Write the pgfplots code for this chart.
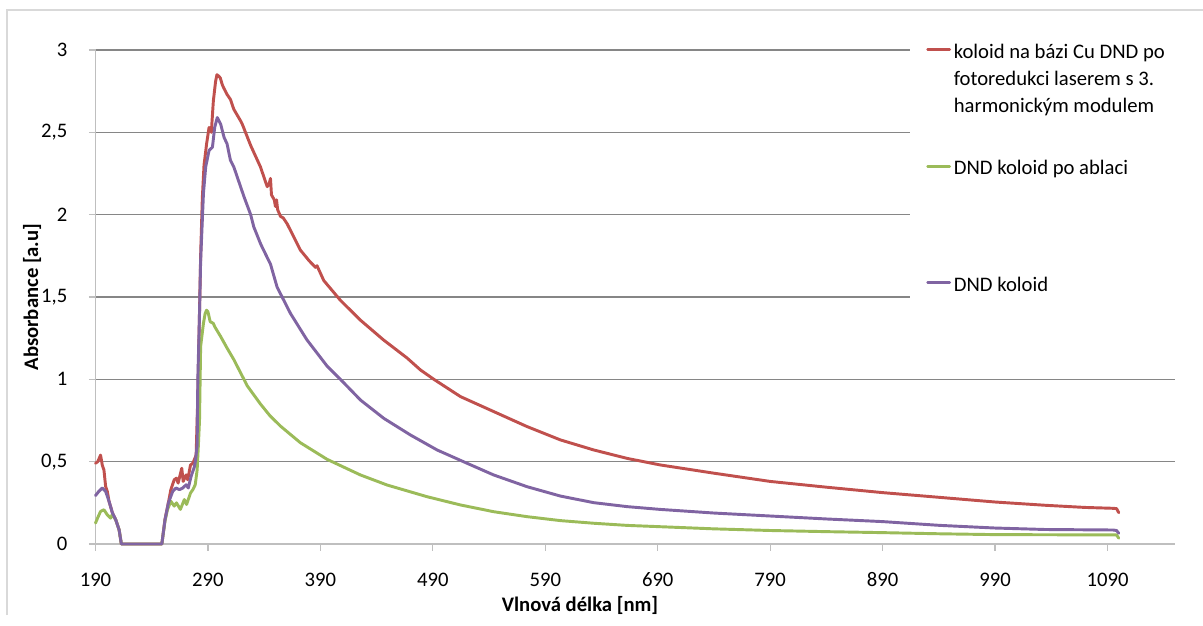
\documentclass[border=0pt]{standalone}
\usepackage{fontspec}
\setmainfont{Carlito}
\usepackage{pgfplots}
\pgfplotsset{compat=1.18}
\definecolor{cred}{HTML}{C0504D}
\definecolor{cgreen}{HTML}{9BBB59}
\definecolor{cpurple}{HTML}{8064A2}
\definecolor{gridc}{HTML}{868686}
\definecolor{axisc}{HTML}{BFBFBF}
\definecolor{borderc}{HTML}{D9D9D9}
\newcommand{\lfont}{\fontsize{15.5}{20.25}\selectfont}
\pgfplotsset{
  lineleg/.style={legend image code/.code={\draw[##1] (0pt,0pt) -- (16.5pt,0pt);}},
  redleg/.style={legend image code/.code={\draw[##1] (0pt,20.25pt) -- (16.5pt,20.25pt);}},
}
\begin{document}
\begin{tikzpicture}
\useasboundingbox (0,0) rectangle (902.25pt,468.75pt);
\draw[borderc,line width=0.9pt] (5.25pt,7.5pt) -- (5.25pt,461.25pt) -- (902.25pt,461.25pt);
\begin{axis}[
  at={(71.625pt,60.75pt)}, anchor=south west,
  scale only axis, width=809.625pt, height=370.5pt,
  xmin=190, xmax=1150, ymin=0, ymax=3,
  clip=false,
  axis x line*=bottom, axis y line*=left,
  axis line style={axisc,line width=1.1pt},
  every outer x axis line/.append style={-},
  every outer y axis line/.append style={-},
  xtick={190,290,390,490,590,690,790,890,990,1090},
  xticklabels={190,290,390,490,590,690,790,890,990,1090},
  ytick={0,0.5,1,1.5,2,2.5,3},
  yticklabels={0,{0,5},1,{1,5},2,{2,5},3},
  tick align=outside, major tick length=5pt,
  tick style={axisc,line width=0.9pt},
  ymajorgrids, grid style={gridc,line width=0.8pt},
  /pgf/number format/assume math mode=true,
  tick label style={font=\lfont},
  x tick label style={anchor=center, yshift=-21.75pt, inner sep=0pt},
  y tick label style={anchor=east, xshift=-16pt, inner sep=0pt},
  xlabel={Vlnová délka [nm]},
  ylabel={Absorbance [a.u]},
  xlabel style={font=\lfont\bfseries, at={(axis description cs:0.4488,-0.1235)}, anchor=center},
  ylabel style={font=\lfont\bfseries, at={(axis description cs:-0.0588,0.5)}, anchor=center},
  legend cell align=left,
  legend style={draw=none, fill=white, at={(0.7545,1.0395)}, anchor=north west,
    inner xsep=12pt, inner ysep=4.5pt, row sep=27pt, column sep=0pt,
    cells={anchor=west, align=left, inner xsep=1.5pt, inner ysep=0pt},
    font=\lfont},
  lineleg,
  every axis plot/.append style={line width=2.2pt, line join=round, line cap=round},
]
\addplot[cred, redleg] coordinates {
(190,0.49)(192,0.50)(194.5,0.54)(196,0.48)(197.5,0.45)(199,0.35)(200.5,0.32)(202,0.26)(205,0.19)(208,0.147)(211,0.086)(213,0)
(249,0)(251.8,0.15)(254.8,0.25)(257,0.33)(260,0.39)(262,0.40)(263.5,0.37)(266.7,0.46)(268,0.38)(270.6,0.42)(272,0.39)(274.5,0.48)(276.6,0.49)(279.5,0.54)
(281,0.9)(283.5,1.75)(285,2.10)(286.5,2.30)(288.8,2.43)(291,2.53)(293,2.50)(294.8,2.69)(296.8,2.81)(298,2.85)(299.8,2.84)(301,2.83)(302.7,2.79)(304,2.77)(307,2.73)(310,2.70)(313,2.64)(319,2.57)(320.5,2.55)(328,2.42)(336.7,2.29)(342.7,2.17)(344.5,2.19)(345.6,2.22)(346.5,2.12)(349,2.09)(350,2.05)(351,2.09)(352,2.03)(354.5,1.99)(357,1.98)(360.4,1.945)(366.3,1.865)(372.2,1.785)(380,1.72)(385.6,1.68)(387,1.69)(393,1.60)(407.8,1.48)(425.5,1.36)(446,1.24)(467,1.13)(479,1.057)(490.9,1.0)(514.6,0.895)(544.2,0.804)(573.8,0.713)(603.5,0.632)(633.1,0.571)(662.7,0.52)(692.3,0.48)(740,0.43)(790,0.38)(840,0.345)(890,0.312)(941,0.283)(990,0.255)(1035,0.235)(1070,0.222)(1094,0.217)(1098,0.215)(1100,0.19)
};
\addlegendentry{\strut koloid na bázi Cu DND po\\\strut fotoredukci laserem s 3.\\\strut harmonickým modulem}
\addplot[cgreen] coordinates {
(190,0.127)(192,0.16)(194.5,0.198)(197.5,0.208)(200.4,0.178)(203.4,0.157)(205,0.18)(208,0.147)(211,0.086)(213,0)
(249,0)(251.8,0.14)(254,0.208)(257,0.26)(260,0.23)(262,0.25)(265.5,0.21)(269,0.27)(271,0.24)(274.5,0.31)(276.6,0.33)(278.7,0.36)(280.4,0.45)(281.5,0.6)(282.5,0.75)(283.5,1.2)(286,1.34)(287.5,1.40)(288.8,1.42)(290,1.41)(291,1.38)(292,1.35)(294.8,1.34)(296,1.32)(301.3,1.26)(307,1.19)(313,1.12)(325,0.96)(336.7,0.85)(345,0.78)(354.5,0.716)(372.2,0.615)(396,0.514)(425.7,0.419)(449.4,0.358)(485,0.287)(514.6,0.237)(544.2,0.196)(573.8,0.166)(603.5,0.142)(633.1,0.126)(662.7,0.113)(692.3,0.105)(740,0.092)(790,0.082)(840,0.075)(890,0.069)(941,0.062)(990,0.057)(1098,0.055)(1100,0.035)
};
\addlegendentry{\strut DND koloid po ablaci}
\addlegendimage{empty legend}
\addlegendentry{\rule{0pt}{8.25pt}}
\addplot[cpurple] coordinates {
(190,0.294)(193,0.32)(196,0.34)(199,0.32)(202,0.26)(205,0.19)(208,0.147)(211,0.086)(213,0)
(249,0)(251.8,0.147)(254.8,0.249)(258.7,0.32)(261.6,0.34)(264.6,0.33)(267.6,0.34)(270.6,0.36)(272.5,0.34)(275,0.41)(278,0.47)(279,0.51)(280.4,0.60)(281,1.0)(282.5,1.4)(283.5,1.72)(286,2.13)(288,2.29)(291,2.39)(294,2.41)(296,2.53)(298.3,2.59)(301.3,2.55)(304.3,2.47)(307,2.43)(310,2.33)(313,2.29)(319,2.17)(322,2.11)(328,2.0)(330.8,1.925)(337,1.82)(342.7,1.74)(345.6,1.70)(351.5,1.56)(363.4,1.40)(378,1.24)(396,1.08)(407.8,1.0)(425.7,0.874)(446.4,0.763)(470.1,0.662)(493.8,0.571)(520.5,0.49)(544.2,0.419)(573.8,0.348)(603.5,0.291)(633.1,0.251)(662.7,0.227)(692.3,0.21)(740,0.188)(790,0.17)(840,0.152)(890,0.136)(941,0.113)(990,0.097)(1035,0.088)(1095,0.085)(1098,0.082)(1100,0.065)
};
\addlegendentry{\strut DND koloid}
\end{axis}
\end{tikzpicture}
\end{document}
